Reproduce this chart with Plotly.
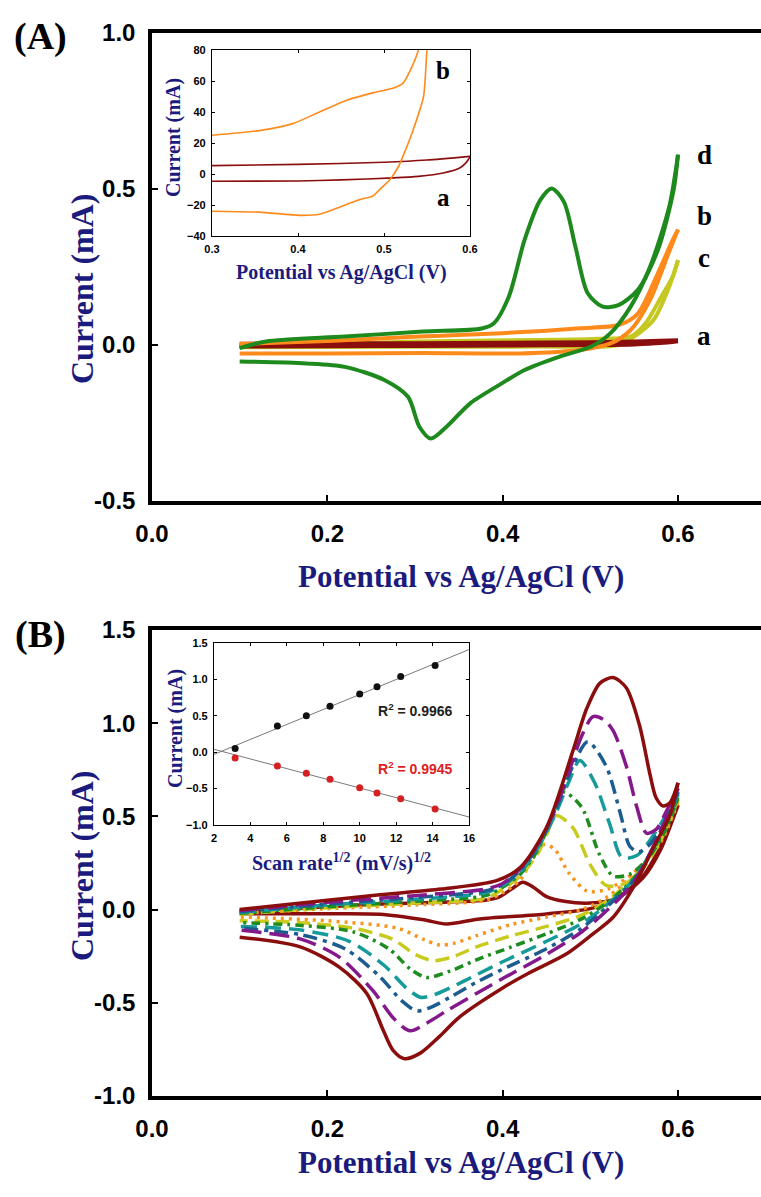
import plotly.graph_objects as go

W, H = 761, 1197

# ---------------- Panel A : main CVs (current in mA vs potential V) ----------------
A_a_fwd_x = [0.10, 0.20, 0.30, 0.40, 0.50, 0.55, 0.60]
A_a_fwd_y = [0.004, 0.005, 0.006, 0.007, 0.009, 0.011, 0.015]
A_a_rev_x = [0.60, 0.58, 0.55, 0.50, 0.40, 0.30, 0.20, 0.10]
A_a_rev_y = [0.012, 0.006, 0.002, 0.000, -0.002, -0.003, -0.004, -0.005]

A_b_fwd_x = [0.10, 0.20, 0.265, 0.33, 0.399, 0.45, 0.488, 0.532, 0.554, 0.577, 0.594, 0.60]
A_b_fwd_y = [0.003, 0.013, 0.022, 0.030, 0.038, 0.046, 0.054, 0.064, 0.10, 0.23, 0.337, 0.37]
A_b_rev_x = [0.60, 0.590, 0.568, 0.546, 0.523, 0.488, 0.42, 0.31, 0.20, 0.10]
A_b_rev_y = [0.37, 0.30, 0.144, 0.048, 0.005, -0.016, -0.027, -0.026, -0.027, -0.027]

A_c_fwd_x = [0.10, 0.30, 0.443, 0.51, 0.546, 0.563, 0.581, 0.594, 0.60]
A_c_fwd_y = [-0.005, 0.011, 0.016, 0.020, 0.027, 0.07, 0.155, 0.219, 0.272]
A_c_rev_x = [0.60, 0.590, 0.572, 0.55, 0.532, 0.443, 0.30, 0.10]
A_c_rev_y = [0.272, 0.187, 0.08, 0.027, 0.0, -0.005, -0.006, -0.007]

A_d_fwd_x = [0.10, 0.13, 0.22, 0.309, 0.376, 0.39, 0.407, 0.425, 0.443, 0.456, 0.470,
             0.483, 0.497, 0.514, 0.532, 0.554, 0.577, 0.595, 0.60]
A_d_fwd_y = [-0.01, 0.011, 0.027, 0.043, 0.053, 0.07, 0.155, 0.337, 0.465, 0.502, 0.458,
             0.315, 0.166, 0.123, 0.128, 0.176, 0.304, 0.497, 0.61]
A_d_rev_x = [0.60, 0.590, 0.568, 0.546, 0.523, 0.501, 0.465, 0.425, 0.399, 0.363, 0.336,
             0.318, 0.305, 0.292, 0.265, 0.220, 0.176, 0.10]
A_d_rev_y = [0.61, 0.443, 0.25, 0.123, 0.038, -0.005, -0.037, -0.08, -0.123, -0.187, -0.262,
             -0.30, -0.262, -0.166, -0.112, -0.07, -0.059, -0.053]

A_xticks = [0.0, 0.2, 0.4, 0.6]
A_xticktext = ["0.0", "0.2", "0.4", "0.6"]
A_yticks = [-0.5, 0.0, 0.5, 1.0]
A_yticktext = ["-0.5", "0.0", "0.5", "1.0"]
A_labels = ["d", "b", "c", "a"]

# ---------------- Panel A inset ----------------
Ai_a_fwd_x = [0.30, 0.40, 0.50, 0.55, 0.60]
Ai_a_fwd_y = [5.4, 6.2, 7.6, 9.0, 11.4]
Ai_a_rev_x = [0.60, 0.595, 0.588, 0.569, 0.54, 0.511, 0.45, 0.40, 0.30]
Ai_a_rev_y = [11.0, 7.0, 3.9, 0.7, -1.5, -2.5, -3.8, -4.5, -4.7]
Ai_b_fwd_x = [0.30, 0.355, 0.394, 0.425, 0.456, 0.488, 0.511, 0.522, 0.534, 0.540, 0.545]
Ai_b_fwd_y = [25.0, 28.0, 32.5, 40.0, 47.5, 52.5, 55.5, 58.5, 71.0, 80.0, 92.0]
Ai_b_rev_x = [0.553, 0.550, 0.546, 0.534, 0.522, 0.517, 0.507, 0.495, 0.487, 0.472, 0.441,
              0.425, 0.402, 0.355, 0.30]
Ai_b_rev_y = [92.0, 80.0, 50.0, 28.6, 11.4, 5.0, -3.6, -10.0, -14.3, -16.5, -23.0,
              -26.0, -26.7, -24.6, -24.0]
Ai_xticks = [0.3, 0.4, 0.5, 0.6]
Ai_xticktext = ["0.3", "0.4", "0.5", "0.6"]
Ai_yticks = [-40, -20, 0, 20, 40, 60, 80]
Ai_labels = ["b", "a"]

# ---------------- Panel B : scan-rate CVs ----------------
B_names = ["10", "30", "50", "70", "100", "120", "150", "200"]
B_colors = ["#8B0E0E", "#F7931E", "#C8CB1E", "#1E8C1E", "#179A9A", "#1C5C8E", "#84198C", "#8B0E0E"]
B_dashes = ["solid", "3px,5px", "14px,7px", "9px,5px,3px,5px", "16px,8px",
            "14px,6px,4px,6px", "20px,8px", "solid"]

B1_fwd_x = [0.10, 0.20, 0.26, 0.38, 0.395, 0.41, 0.423, 0.435, 0.45, 0.47, 0.50, 0.53, 0.56, 0.58, 0.60]
B1_fwd_y = [-0.01, 0.015, 0.03, 0.05, 0.065, 0.11, 0.147, 0.12, 0.07, 0.045, 0.035, 0.06, 0.17, 0.32, 0.56]
B1_rev_x = [0.60, 0.58, 0.56, 0.53, 0.50, 0.45, 0.374, 0.336, 0.31, 0.26, 0.20, 0.10]
B1_rev_y = [0.56, 0.34, 0.18, 0.06, 0.005, -0.023, -0.05, -0.077, -0.055, -0.025, -0.022, -0.022]

B2_fwd_x = [0.10, 0.20, 0.30, 0.38, 0.40, 0.42, 0.435, 0.448, 0.46, 0.475, 0.496, 0.52, 0.55, 0.58, 0.60]
B2_fwd_y = [-0.02, 0.005, 0.025, 0.05, 0.09, 0.16, 0.28, 0.35, 0.32, 0.20, 0.10, 0.11, 0.20, 0.36, 0.58]
B2_rev_x = [0.60, 0.58, 0.55, 0.52, 0.49, 0.45, 0.41, 0.37, 0.345, 0.328, 0.31, 0.28, 0.20, 0.10]
B2_rev_y = [0.58, 0.37, 0.19, 0.07, 0.0, -0.04, -0.08, -0.14, -0.18, -0.19, -0.16, -0.10, -0.06, -0.04]

B3_fwd_x = [0.10, 0.20, 0.30, 0.38, 0.40, 0.42, 0.44, 0.45, 0.461, 0.48, 0.50, 0.518, 0.54, 0.56, 0.58, 0.60]
B3_fwd_y = [-0.025, 0.01, 0.035, 0.06, 0.11, 0.18, 0.30, 0.40, 0.505, 0.44, 0.24, 0.13, 0.14, 0.22, 0.37, 0.59]
B3_rev_x = [0.60, 0.58, 0.55, 0.52, 0.49, 0.45, 0.41, 0.37, 0.345, 0.321, 0.30, 0.275, 0.23, 0.17, 0.10]
B3_rev_y = [0.59, 0.38, 0.175, 0.05, -0.03, -0.09, -0.14, -0.20, -0.25, -0.274, -0.24, -0.16, -0.10, -0.07, -0.06]

B4_fwd_x = [0.10, 0.20, 0.30, 0.38, 0.40, 0.42, 0.44, 0.455, 0.469, 0.49, 0.51, 0.526, 0.545, 0.565, 0.585, 0.60]
B4_fwd_y = [-0.02, 0.015, 0.045, 0.075, 0.12, 0.19, 0.32, 0.48, 0.63, 0.55, 0.30, 0.18, 0.19, 0.27, 0.42, 0.60]
B4_rev_x = [0.60, 0.58, 0.55, 0.52, 0.49, 0.45, 0.41, 0.37, 0.34, 0.313, 0.295, 0.27, 0.23, 0.17, 0.10]
B4_rev_y = [0.60, 0.39, 0.17, 0.04, -0.05, -0.13, -0.20, -0.27, -0.33, -0.364, -0.32, -0.21, -0.12, -0.085, -0.07]

B5_fwd_x = [0.10, 0.20, 0.30, 0.38, 0.40, 0.42, 0.44, 0.46, 0.475, 0.488, 0.505, 0.522, 0.536, 0.553, 0.575, 0.60]
B5_fwd_y = [-0.015, 0.025, 0.055, 0.09, 0.13, 0.20, 0.33, 0.51, 0.68, 0.80, 0.68, 0.46, 0.28, 0.29, 0.42, 0.62]
B5_rev_x = [0.60, 0.58, 0.55, 0.52, 0.49, 0.45, 0.40, 0.37, 0.34, 0.32, 0.306, 0.29, 0.265, 0.225, 0.17, 0.10]
B5_rev_y = [0.62, 0.40, 0.165, 0.03, -0.075, -0.17, -0.28, -0.35, -0.42, -0.46, -0.47, -0.42, -0.30, -0.17, -0.11, -0.09]

B6_fwd_x = [0.10, 0.20, 0.30, 0.38, 0.40, 0.42, 0.44, 0.46, 0.48, 0.497, 0.518, 0.534, 0.545, 0.555, 0.568, 0.585, 0.60]
B6_fwd_y = [-0.01, 0.03, 0.065, 0.10, 0.135, 0.21, 0.34, 0.53, 0.77, 0.90, 0.77, 0.52, 0.34, 0.31, 0.35, 0.47, 0.63]
B6_rev_x = [0.60, 0.58, 0.55, 0.52, 0.49, 0.45, 0.40, 0.37, 0.34, 0.32, 0.302, 0.285, 0.26, 0.22, 0.17, 0.10]
B6_rev_y = [0.63, 0.41, 0.16, 0.02, -0.10, -0.21, -0.32, -0.39, -0.47, -0.52, -0.543, -0.49, -0.36, -0.21, -0.135, -0.10]

B7_fwd_x = [0.10, 0.20, 0.30, 0.38, 0.40, 0.42, 0.44, 0.46, 0.48, 0.49, 0.503, 0.515, 0.526, 0.541,
            0.553, 0.564, 0.575, 0.587, 0.60]
B7_fwd_y = [-0.005, 0.04, 0.075, 0.11, 0.14, 0.22, 0.35, 0.54, 0.80, 0.93, 1.035, 1.02, 0.96, 0.77,
            0.55, 0.41, 0.43, 0.53, 0.65]
B7_rev_x = [0.60, 0.58, 0.55, 0.52, 0.49, 0.45, 0.40, 0.37, 0.336, 0.313, 0.294, 0.275, 0.252, 0.214, 0.169, 0.10]
B7_rev_y = [0.65, 0.42, 0.15, 0.0, -0.12, -0.24, -0.37, -0.45, -0.543, -0.61, -0.65, -0.58, -0.435, -0.256, -0.157, -0.11]

B8_fwd_x = [0.10, 0.20, 0.26, 0.33, 0.393, 0.42, 0.45, 0.48, 0.496, 0.511, 0.526, 0.541, 0.556,
            0.568, 0.575, 0.583, 0.591, 0.60]
B8_fwd_y = [0.0, 0.05, 0.08, 0.11, 0.155, 0.226, 0.44, 0.85, 1.08, 1.215, 1.245, 1.19, 0.99,
            0.726, 0.60, 0.556, 0.574, 0.68]
B8_rev_x = [0.60, 0.591, 0.572, 0.549, 0.526, 0.503, 0.473, 0.43, 0.40, 0.351, 0.328, 0.306, 0.288,
            0.275, 0.264, 0.245, 0.214, 0.169, 0.10]
B8_rev_y = [0.68, 0.51, 0.333, 0.119, -0.041, -0.13, -0.237, -0.34, -0.42, -0.575, -0.68, -0.77, -0.80,
            -0.755, -0.65, -0.45, -0.31, -0.20, -0.148]

B_yticks = [-1.0, -0.5, 0.0, 0.5, 1.0, 1.5]
B_yticktext = ["-1.0", "-0.5", "0.0", "0.5", "1.0", "1.5"]

# ---------------- Panel B inset: peak current vs sqrt(scan rate) ----------------
Bi_sqrt_rate = [3.16, 5.48, 7.07, 8.37, 10.0, 10.95, 12.25, 14.14]
Bi_ipa = [0.05, 0.36, 0.50, 0.63, 0.80, 0.90, 1.04, 1.19]
Bi_ipc = [-0.08, -0.19, -0.29, -0.37, -0.49, -0.56, -0.64, -0.78]
Bi_fit_x = [2.0, 16.0]
Bi_fit_a = [-0.03, 1.41]
Bi_fit_c = [0.04, -0.89]
Bi_r2 = ["0.9966", "0.9945"]
Bi_xticks = [2, 4, 6, 8, 10, 12, 14, 16]
Bi_yticks = [-1.0, -0.5, 0.0, 0.5, 1.0, 1.5]

# ---------------- styling ----------------
NAVY = "#1b1b7d"
SERIF = "Liberation Serif, Times New Roman, serif"
SANS = "Liberation Sans, Arial, sans-serif"
A_col = {"a": "#8B0E0E", "b": "#FF8A1C", "c": "#C4C821", "d": "#1E8A1E"}


def px(p):
    return p / W


def py(p):
    return 1 - p / H


fig = go.Figure()


def add_line(x, y, xa, ya, color, width, dash="solid", smooth=0.8):
    fig.add_trace(go.Scatter(
        x=x, y=y, xaxis=xa, yaxis=ya, mode="lines",
        line=dict(color=color, width=width, dash=dash, shape="spline", smoothing=smooth),
        showlegend=False, hoverinfo="skip"))


# Panel A main
for fx, fy, rx, ry, key in [
    (A_c_fwd_x, A_c_fwd_y, A_c_rev_x, A_c_rev_y, "c"),
    (A_a_fwd_x, A_a_fwd_y, A_a_rev_x, A_a_rev_y, "a"),
    (A_b_fwd_x, A_b_fwd_y, A_b_rev_x, A_b_rev_y, "b"),
    (A_d_fwd_x, A_d_fwd_y, A_d_rev_x, A_d_rev_y, "d"),
]:
    add_line(fx, fy, "x", "y", A_col[key], 4)
    add_line(rx, ry, "x", "y", A_col[key], 4)

# Panel A inset
add_line(Ai_a_fwd_x, Ai_a_fwd_y, "x2", "y2", "#8B0E0E", 1.6, smooth=0.6)
add_line(Ai_a_rev_x, Ai_a_rev_y, "x2", "y2", "#8B0E0E", 1.6, smooth=0.6)
add_line(Ai_b_fwd_x, Ai_b_fwd_y, "x2", "y2", "#FF8A1C", 1.6, smooth=0.6)
add_line(Ai_b_rev_x, Ai_b_rev_y, "x2", "y2", "#FF8A1C", 1.6, smooth=0.6)

# Panel B main
B_curves = [
    (B1_fwd_x, B1_fwd_y, B1_rev_x, B1_rev_y),
    (B2_fwd_x, B2_fwd_y, B2_rev_x, B2_rev_y),
    (B3_fwd_x, B3_fwd_y, B3_rev_x, B3_rev_y),
    (B4_fwd_x, B4_fwd_y, B4_rev_x, B4_rev_y),
    (B5_fwd_x, B5_fwd_y, B5_rev_x, B5_rev_y),
    (B6_fwd_x, B6_fwd_y, B6_rev_x, B6_rev_y),
    (B7_fwd_x, B7_fwd_y, B7_rev_x, B7_rev_y),
    (B8_fwd_x, B8_fwd_y, B8_rev_x, B8_rev_y),
]
for (fx, fy, rx, ry), col, dsh in zip(B_curves, B_colors, B_dashes):
    add_line(fx, fy, "x3", "y3", col, 3.5, dsh)
    add_line(rx, ry, "x3", "y3", col, 3.5, dsh)

# Panel B inset
fig.add_trace(go.Scatter(x=Bi_fit_x, y=Bi_fit_a, xaxis="x4", yaxis="y4", mode="lines",
                         line=dict(color="#7a7a7a", width=1), showlegend=False, hoverinfo="skip"))
fig.add_trace(go.Scatter(x=Bi_fit_x, y=Bi_fit_c, xaxis="x4", yaxis="y4", mode="lines",
                         line=dict(color="#7a7a7a", width=1), showlegend=False, hoverinfo="skip"))
fig.add_trace(go.Scatter(x=Bi_sqrt_rate, y=Bi_ipa, xaxis="x4", yaxis="y4", mode="markers",
                         marker=dict(color="#111111", size=7), showlegend=False, hoverinfo="skip"))
fig.add_trace(go.Scatter(x=Bi_sqrt_rate, y=Bi_ipc, xaxis="x4", yaxis="y4", mode="markers",
                         marker=dict(color="#D42020", size=7), showlegend=False, hoverinfo="skip"))

main_tickfont = dict(family=SANS, size=24, color="black", weight="bold")
inset_tickfont = dict(family=SANS, size=11, color="black", weight="bold")

A_top, A_bot = 33, 501
B_top, B_bot = 630, 1096
X_left = 152
x_right_val = 0.6 * (W - X_left) / (678 - X_left)

main_x = dict(range=[0, x_right_val], tickvals=A_xticks, ticktext=A_xticktext,
              showline=True, mirror=True, linecolor="black", linewidth=3.5,
              ticks="inside", ticklen=6, tickwidth=1.5, tickcolor="black",
              tickfont=main_tickfont, showgrid=False, zeroline=False, automargin=False,
              ticklabelstandoff=8, domain=[px(X_left), 1])
main_y = dict(showline=True, mirror=False, linecolor="black", linewidth=3.5,
              ticks="inside", ticklen=6, tickwidth=1.5, tickcolor="black",
              tickfont=main_tickfont, showgrid=False, zeroline=False, automargin=False,
              ticklabelstandoff=8)
inset_ax = dict(showline=True, mirror="ticks", linecolor="black", linewidth=1.2,
                ticks="inside", ticklen=3, tickwidth=1, tickcolor="black",
                tickfont=inset_tickfont, showgrid=False, zeroline=False, automargin=False,
                ticklabelstandoff=3)

fig.update_layout(
    width=W, height=H, autosize=False,
    margin=dict(l=0, r=0, t=0, b=0, pad=0, autoexpand=False),
    paper_bgcolor="white", plot_bgcolor="white", showlegend=False,
    xaxis=dict(main_x, anchor="y"),
    yaxis=dict(main_y, anchor="x", range=[-0.5, 1.0], tickvals=A_yticks, ticktext=A_yticktext,
               domain=[py(A_bot), py(A_top)]),
    xaxis2=dict(inset_ax, anchor="y2", range=[0.3, 0.6], tickvals=Ai_xticks, ticktext=Ai_xticktext,
                domain=[px(212), px(470)]),
    yaxis2=dict(inset_ax, anchor="x2", range=[-40, 80], tickvals=Ai_yticks,
                domain=[py(236), py(50)]),
    xaxis3=dict(main_x, anchor="y3"),
    yaxis3=dict(main_y, anchor="x3", range=[-1.0, 1.5], tickvals=B_yticks, ticktext=B_yticktext,
                domain=[py(B_bot), py(B_top)]),
    xaxis4=dict(inset_ax, anchor="y4", range=[2, 16], tickvals=Bi_xticks,
                domain=[px(214), px(469)]),
    yaxis4=dict(inset_ax, anchor="x4", range=[-1.0, 1.5], tickvals=Bi_yticks, tickformat=".1f",
                domain=[py(825), py(643)]),
)

ann = []


def text(x, y, s, size, color="black", family=SERIF, angle=0):
    ann.append(dict(x=px(x), y=py(y), xref="paper", yref="paper", text=s, showarrow=False,
                    textangle=angle, xanchor="center", yanchor="middle",
                    font=dict(family=family, size=size, color=color, weight="bold")))


# panel letters
text(40, 36, "(A)", 38)
text(40, 634, "(B)", 38)
# main axis titles
text(461, 576, "Potential vs Ag/AgCl (V)", 31, NAVY)
text(461, 1162, "Potential vs Ag/AgCl (V)", 31, NAVY)
text(82, 289, "Current (mA)", 32, NAVY, angle=-90)
text(82, 866, "Current (mA)", 32, NAVY, angle=-90)
# panel A curve labels
for lab, yy in zip(A_labels, [155, 216, 258, 336]):
    text(704, yy, lab, 27)
# inset A
text(341, 272, "Potential vs Ag/AgCl (V)", 20, NAVY)
text(173, 138, "Current (mA)", 20, NAVY, angle=-90)
for lab, yy in zip(Ai_labels, [71, 197]):
    text(443, yy, lab, 25)
# inset B
text(341, 862, "Scan rate<sup>1/2</sup> (mV/s)<sup>1/2</sup>", 20, NAVY)
text(175, 729, "Current (mA)", 20, NAVY, angle=-90)
text(415, 710, "R<sup>2</sup> = " + Bi_r2[0], 14, "#222222", SANS)
text(415, 768, "R<sup>2</sup> = " + Bi_r2[1], 14, "#E02020", SANS)

fig.update_layout(annotations=ann)
fig.write_html("out.html", config={"responsive": False, "displayModeBar": False},
               post_script="document.body.style.margin='0px';"
                           "document.body.style.padding='0px';"
                           "document.body.style.overflow='hidden';"
                           "document.documentElement.style.overflow='hidden';")
